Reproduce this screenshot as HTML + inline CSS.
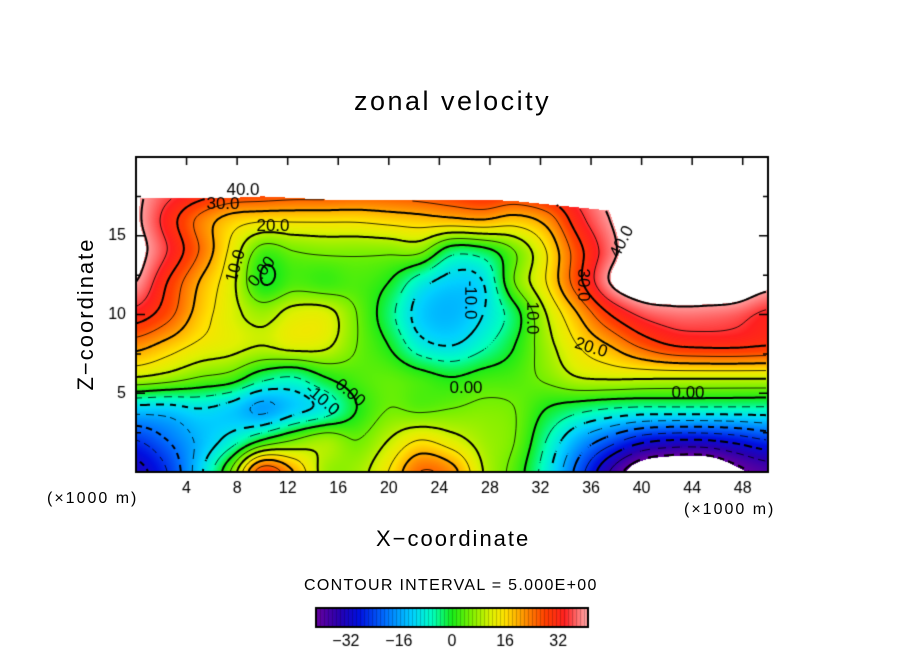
<!DOCTYPE html>
<html><head><meta charset="utf-8"><style>
body{margin:0;background:#fff;width:904px;height:654px;overflow:hidden;position:relative;font-family:"Liberation Sans",sans-serif;}
.t{position:absolute;color:#000;white-space:nowrap;}
</style></head><body>
<div class="t" style="left:354px;top:86px;font-size:27px;letter-spacing:2.5px">zonal velocity</div>
<div class="t" style="left:86px;top:314px;font-size:22px;letter-spacing:2px;transform:translate(-50%,-50%) rotate(-90deg)">Z−coordinate</div>
<div class="t" style="left:376px;top:526px;font-size:22px;letter-spacing:2px">X−coordinate</div>
<div class="t" style="left:47px;top:490px;font-size:16px;letter-spacing:2px">(×1000 m)</div>
<div class="t" style="left:684px;top:501px;font-size:16px;letter-spacing:2px">(×1000 m)</div>
<div class="t" style="left:304px;top:577px;font-size:16px;letter-spacing:1.3px">CONTOUR INTERVAL = 5.000E+00</div>
<canvas id="cv" width="904" height="654" style="position:absolute;left:0;top:0"></canvas>
<script>
const xs=[0,2.5,5,7.5,10,12.5,15,17.5,20,22.5,25,27.5,30,32.5,35,37.5,40,42.5,45,47.5,50];
const zs=[0,2,4,6,8,10,12,14,16,18];
const row0=[-32,-25,-12,5,28,20,8,8,15,25,22,10,3,-8,-22,-35,-45,-48,-48,-42,-38];
const row2=[-25,-20,-14,-8,0,5,8,5,10,15,12,8,5,-5,-15,-22,-28,-30,-30,-28,-25];
const row4=[-12,-12,-10,-12,-16,-12,-8,0,5,4,5,6,5,0,-3,-5,-6,-6,-6,-6,-6];
const row6=[10,8,5,3,-3,-5,0,3,4,2,0,2,3,6,10,11,11,11,11,11,11];
const row8=[22,18,14,12,10,12,11,5,0,-8,-10,-6,0,8,15,20,26,30,31,31,30];
const row10=[33,27,18,12,8,12,12,5,-3,-12,-14,-10,-2,10,20,30,36,38,38,37,34];
const row12=[40,30,20,12,0,3,2,3,0,-8,-12,-10,5,15,28,40,45,45,45,45,42];
const row14=[42,35,25,14,3,5,6,6,6,6,-3,-2,5,15,28,38,45,45,45,45,45];
const row16=[41,33,24,18,16,16,16,16,17,18,19,20,18,22,33,40,45,45,45,45,45];
const row18=[41,37,34,31,30,29,29,28,28,29,30,32,31,34,37,42,45,45,45,45,45];
const uGrid=[row0,row2,row4,row6,row8,row10,row12,row14,row16,row18];
const topZ=[17.4,17.4,17.4,17.4,17.5,17.4,17.3,17.3,17.3,17.3,17.3,17.3,17.2,17.0,16.8,16.6,16.4,16.3,20,20,20];
const cbTicks=[-32,-16,0,16,32];
const yTicks=[5,10,15];
const xTicks=[4,8,12,16,20,24,28,32,36,40,44,48];

const L=136,R=768,T=157,B=472,XMIN=0,XMAX=50,ZMIN=0,ZMAX=20;
const sx=x=>L+(x-XMIN)/(XMAX-XMIN)*(R-L);
const sz=z=>B-(z-ZMIN)/(ZMAX-ZMIN)*(B-T);
const ix=px=>XMIN+(px-L)/(R-L)*(XMAX-XMIN);
const iz=py=>ZMIN+(B-py)/(B-T)*(ZMAX-ZMIN);

function cr(p0,p1,p2,p3,t){return 0.5*((2*p1)+(-p0+p2)*t+(2*p0-5*p1+4*p2-p3)*t*t+(-p0+3*p1-3*p2+p3)*t*t*t);}
function idx(a,v){let i=0;while(i<a.length-2&&v>a[i+1])i++;return [i,Math.max(0,Math.min(1,(v-a[i])/(a[i+1]-a[i])))];}
function g(r,c){r=Math.max(0,Math.min(uGrid.length-1,r));c=Math.max(0,Math.min(xs.length-1,c));return uGrid[r][c];}
function val(x,z){const [i,tx]=idx(xs,x),[j,tz]=idx(zs,z);const rows=[];for(let r=-1;r<3;r++){rows.push(cr(g(j+r,i-1),g(j+r,i),g(j+r,i+1),g(j+r,i+2),tx));}return cr(rows[0],rows[1],rows[2],rows[3],tz);}
function topAt(x){const [i,t]=idx(xs,x);return topZ[i]*(1-t)+topZ[i+1]*t;}
const stops=[[-40,[96,0,160]],[-34,[40,0,176]],[-28,[0,16,224]],[-20,[0,112,255]],[-12,[0,208,255]],[-6,[0,255,192]],[0,[24,236,24]],[6,[128,240,0]],[12,[224,240,0]],[16,[255,224,0]],[22,[255,144,0]],[28,[255,64,0]],[34,[255,32,32]],[40,[255,154,154]]];
function col(v){if(v<=stops[0][0])return stops[0][1];for(let k=0;k<stops.length-1;k++){const a=stops[k],b=stops[k+1];if(v<=b[0]){const t=(v-a[0])/(b[0]-a[0]);return a[1].map((c,m)=>Math.round(c+(b[1][m]-c)*t));}}return stops[stops.length-1][1];}

const cv=document.getElementById('cv'),ctx=cv.getContext('2d');
const W=R-L,H=B-T;const img=ctx.createImageData(W,H);
const F=[];
for(let py=0;py<H;py++){F.push([]);for(let px=0;px<W;px++){const x=ix(L+px+0.5),z=iz(T+py+0.5);let v=val(x,z);if(z>topAt(x))v=NaN;F[py].push(v);const o=(py*W+px)*4;let c=[255,255,255];if(!isNaN(v)&&v>=-40.5&&v<=40.5)c=col(v);img.data[o]=c[0];img.data[o+1]=c[1];img.data[o+2]=c[2];img.data[o+3]=255;}}
ctx.putImageData(img,L,T);
ctx.strokeStyle='#000';
const S=2;
for(let lev=-40;lev<=40;lev+=5){
 ctx.lineWidth=(lev%10===0)?2:0.8;ctx.beginPath();
 for(let py=0;py+S<H;py+=S)for(let px=0;px+S<W;px+=S){
  const a=F[py][px],b=F[py][px+S],c=F[py+S][px+S],d=F[py+S][px];
  if([a,b,c,d].some(isNaN))continue;
  if(lev<0&&Math.floor((px+py)/7)%2===1)continue;
  const pts=[];
  const e=(v1,v2,x1,y1,x2,y2)=>{if((v1<lev)!==(v2<lev)){const t=(lev-v1)/(v2-v1);pts.push([x1+(x2-x1)*t,y1+(y2-y1)*t]);}};
  e(a,b,px,py,px+S,py);e(b,c,px+S,py,px+S,py+S);e(c,d,px+S,py+S,px,py+S);e(d,a,px,py+S,px,py);
  for(let k=0;k+1<pts.length;k+=2){ctx.moveTo(L+pts[k][0],T+pts[k][1]);ctx.lineTo(L+pts[k+1][0],T+pts[k+1][1]);}
 }
 ctx.stroke();
}
ctx.lineWidth=2;ctx.strokeRect(L,T,W,H);ctx.lineWidth=1.5;ctx.beginPath();
xTicks.forEach(x=>{ctx.moveTo(sx(x),T);ctx.lineTo(sx(x),T+8);});
for(let z=2.5;z<20;z+=2.5){const l=(z%5===0)?9:5;ctx.moveTo(L,sz(z));ctx.lineTo(L+l,sz(z));ctx.moveTo(R,sz(z));ctx.lineTo(R-l,sz(z));}
ctx.stroke();
ctx.fillStyle='#000';ctx.font='16px "Liberation Sans", sans-serif';ctx.textAlign='center';ctx.textBaseline='middle';
xTicks.forEach(x=>ctx.fillText(String(x),sx(x),489));
ctx.textAlign='right';yTicks.forEach(z=>ctx.fillText(String(z),126,sz(z)));
ctx.textAlign='center';ctx.font='17px "Liberation Sans", sans-serif';
const labs=[["40.0",243,190,0],["30.0",223,204,0],["20.0",273,226,0],["10.0",236,266,-1.3],["0.00",262,272,-0.9],["-10.0",470,300,1.57],["10.0",532,318,1.57],["30.0",583,285,1.57],["40.0",622,242,-1.1],["20.0",591,348,0.3],["0.00",466,388,0],["0.00",688,393,0],["-10.0",322,400,0.7],["0.00",350,393,0.7]];
labs.forEach(l=>{ctx.save();ctx.translate(l[1],l[2]);ctx.rotate(l[3]);ctx.fillText(l[0],0,0);ctx.restore();});
const cbL=316,cbR=588,cbT=608,cbB=627,VMIN=-41,VMAX=41;
const cbx=v=>cbL+(v-VMIN)/(VMAX-VMIN)*(cbR-cbL);
for(let px=cbL;px<cbR;px++){const v=VMIN+(px-cbL+0.5)/(cbR-cbL)*(VMAX-VMIN);const c=col(v);ctx.fillStyle=(px%4===0)?`rgb(${c.map(q=>Math.round(q*0.8)).join(',')})`:`rgb(${c.join(',')})`;ctx.fillRect(px,cbT,1,cbB-cbT);}
ctx.lineWidth=2;ctx.strokeStyle='#000';ctx.strokeRect(cbL,cbT,cbR-cbL,cbB-cbT);
ctx.fillStyle='#000';ctx.font='16px "Liberation Sans", sans-serif';
cbTicks.forEach(v=>ctx.fillText(String(v).replace('-','−'),cbx(v),642));
</script>
</body></html>
